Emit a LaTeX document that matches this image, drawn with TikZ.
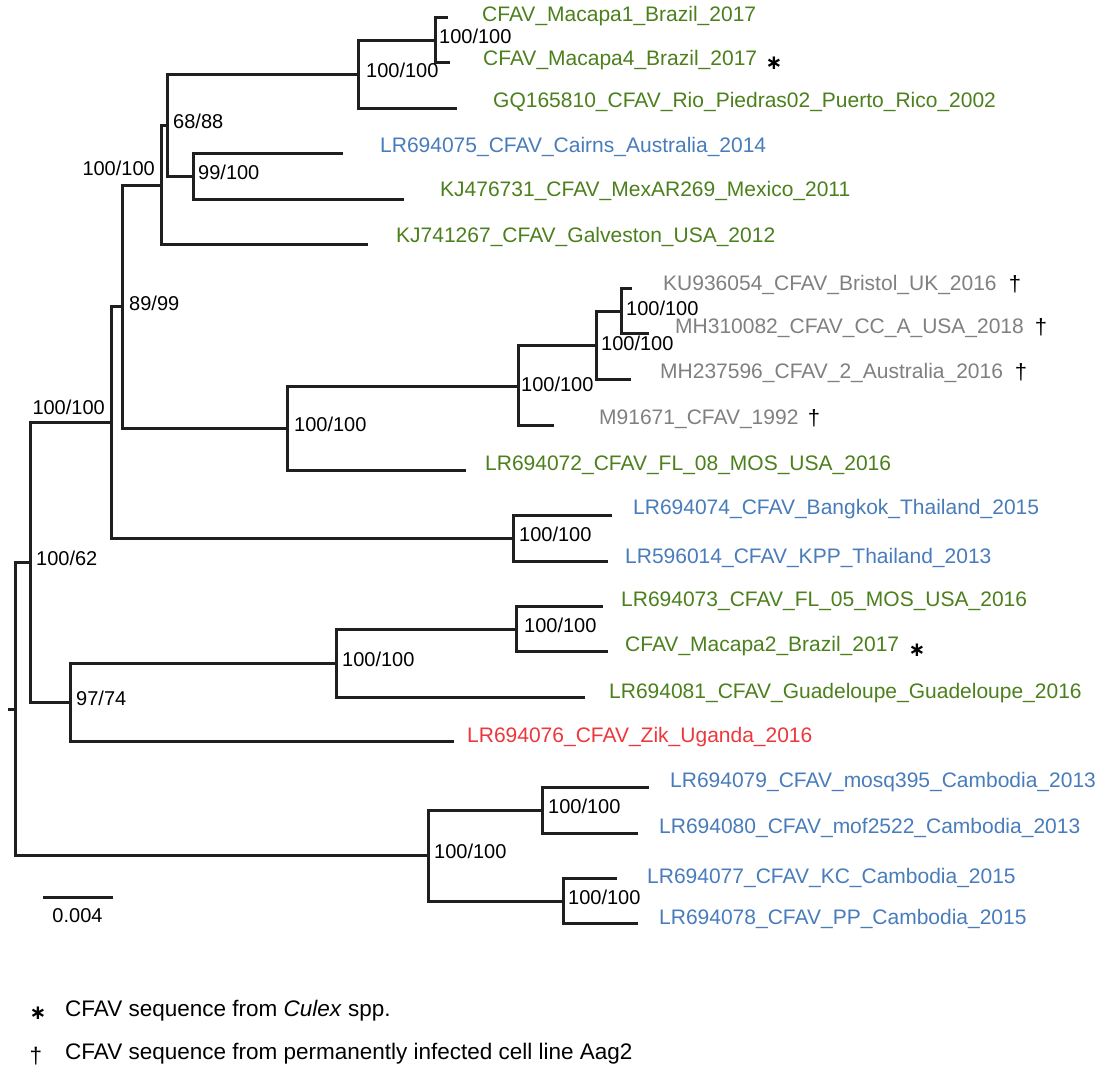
\documentclass[tikz,border=0pt]{standalone}
\usepackage{fontspec}
\setmainfont{Liberation Sans}
\newfontfamily\djv{DejaVu Sans}
\definecolor{tgreen}{RGB}{76,128,28}
\definecolor{tblue}{RGB}{72,124,186}
\definecolor{tgray}{RGB}{128,128,128}
\definecolor{tred}{RGB}{236,56,60}
\begin{document}
\begin{tikzpicture}[x=1pt,y=-1pt,
 br/.style={line width=3pt, draw=black!88},
 tiplab/.style={anchor=west, inner sep=0pt, font=\fontsize{21}{25}\selectfont, text height=0.716em, text depth=0pt},
 tg/.style={tiplab, text=tgreen},
 tb/.style={tiplab, text=tblue},
 tgy/.style={tiplab, text=tgray},
 tr/.style={tiplab, text=tred},
 bs/.style={anchor=west, inner sep=0pt, font=\fontsize{20}{24}\selectfont, text height=0.716em, text depth=0pt},
 bsl/.style={bs, anchor=east},
 mkstar/.style={inner sep=0pt, font=\djv\bfseries\fontsize{20}{22}\selectfont},
 mkdag/.style={inner sep=0pt, font=\fontsize{22}{25}\selectfont},
 leg/.style={anchor=west, inner sep=0pt, font=\fontsize{22.5}{27}\selectfont, text height=0.716em, text depth=0pt}]
\useasboundingbox[fill=white] (0,0) rectangle (1106,1068);

% internal nodes
\coordinate (root0) at (8,709);
\coordinate (root) at (15,709);
\coordinate (P2) at (30,562);
\coordinate (P3) at (111,422);
\coordinate (N89) at (122,306);
\coordinate (P1) at (161,185);
\coordinate (N68) at (167,125);
\coordinate (NA) at (358,74);
\coordinate (Nmac) at (435,40);
\coordinate (N99) at (193,176);
\coordinate (Nb4) at (287,428);
\coordinate (Nb3) at (518,386);
\coordinate (Nb2) at (596,345);
\coordinate (Nbr) at (621,311);
\coordinate (Nth) at (513,538);
\coordinate (N97) at (70,702);
\coordinate (Ngu) at (336,663);
\coordinate (N73) at (516,629);
\coordinate (Ncb) at (428,855);
\coordinate (Nmq) at (542,810);
\coordinate (Nkc) at (563,901);

% tips
\coordinate (t1) at (448,17);
\coordinate (t2) at (450,62);
\coordinate (t3) at (457,108);
\coordinate (t4) at (343,153);
\coordinate (t5) at (404,199);
\coordinate (t6) at (368,244);
\coordinate (t7) at (632,288);
\coordinate (t8) at (649,333);
\coordinate (t9) at (631,379);
\coordinate (t10) at (554,425);
\coordinate (t11) at (466,470);
\coordinate (t12) at (612,515);
\coordinate (t13) at (608,561);
\coordinate (t14) at (603,606);
\coordinate (t15) at (608,651);
\coordinate (t16) at (585,697);
\coordinate (t17) at (454,741);
\coordinate (t18) at (649,787);
\coordinate (t19) at (638,833);
\coordinate (t20) at (617,878);
\coordinate (t21) at (638,923);

% branches
\draw[br] (root0) -- (root);
\draw[br] (root) |- (P2);  \draw[br] (root) |- (Ncb);
\draw[br] (P2) |- (P3);    \draw[br] (P2) |- (N97);
\draw[br] (P3) |- (N89);   \draw[br] (P3) |- (Nth);
\draw[br] (N89) |- (P1);   \draw[br] (N89) |- (Nb4);
\draw[br] (P1) |- (N68);   \draw[br] (P1) |- (t6);
\draw[br] (N68) |- (NA);   \draw[br] (N68) |- (N99);
\draw[br] (NA) |- (Nmac);  \draw[br] (NA) |- (t3);
\draw[br] (Nmac) |- (t1);  \draw[br] (Nmac) |- (t2);
\draw[br] (N99) |- (t4);   \draw[br] (N99) |- (t5);
\draw[br] (Nb4) |- (Nb3);  \draw[br] (Nb4) |- (t11);
\draw[br] (Nb3) |- (Nb2);  \draw[br] (Nb3) |- (t10);
\draw[br] (Nb2) |- (Nbr);  \draw[br] (Nb2) |- (t9);
\draw[br] (Nbr) |- (t7);   \draw[br] (Nbr) |- (t8);
\draw[br] (Nth) |- (t12);  \draw[br] (Nth) |- (t13);
\draw[br] (N97) |- (Ngu);  \draw[br] (N97) |- (t17);
\draw[br] (Ngu) |- (N73);  \draw[br] (Ngu) |- (t16);
\draw[br] (N73) |- (t14);  \draw[br] (N73) |- (t15);
\draw[br] (Ncb) |- (Nmq);  \draw[br] (Ncb) |- (Nkc);
\draw[br] (Nmq) |- (t18);  \draw[br] (Nmq) |- (t19);
\draw[br] (Nkc) |- (t20);  \draw[br] (Nkc) |- (t21);

% tip labels
\node[tg]  (l1)  at (482,18)  {CFAV\_Macapa1\_Brazil\_2017};
\node[tg]  (l2)  at (483,62)  {CFAV\_Macapa4\_Brazil\_2017};
\node[tg]  (l3)  at (493,104) {GQ165810\_CFAV\_Rio\_Piedras02\_Puerto\_Rico\_2002};
\node[tb]  (l4)  at (380,149) {LR694075\_CFAV\_Cairns\_Australia\_2014};
\node[tg]  (l5)  at (440,193) {KJ476731\_CFAV\_MexAR269\_Mexico\_2011};
\node[tg]  (l6)  at (396,239) {KJ741267\_CFAV\_Galveston\_USA\_2012};
\node[tgy] (l7)  at (663,287) {KU936054\_CFAV\_Bristol\_UK\_2016};
\node[tgy] (l8)  at (675,330) {MH310082\_CFAV\_CC\_A\_USA\_2018};
\node[tgy] (l9)  at (660,375) {MH237596\_CFAV\_2\_Australia\_2016};
\node[tgy] (l10) at (599,421) {M91671\_CFAV\_1992};
\node[tg]  (l11) at (485,467) {LR694072\_CFAV\_FL\_08\_MOS\_USA\_2016};
\node[tb]  (l12) at (633,511) {LR694074\_CFAV\_Bangkok\_Thailand\_2015};
\node[tb]  (l13) at (625,560) {LR596014\_CFAV\_KPP\_Thailand\_2013};
\node[tg]  (l14) at (621,603) {LR694073\_CFAV\_FL\_05\_MOS\_USA\_2016};
\node[tg]  (l15) at (625,648) {CFAV\_Macapa2\_Brazil\_2017};
\node[tg]  (l16) at (609,695) {LR694081\_CFAV\_Guadeloupe\_Guadeloupe\_2016};
\node[tr]  (l17) at (467,739) {LR694076\_CFAV\_Zik\_Uganda\_2016};
\node[tb]  (l18) at (670,784) {LR694079\_CFAV\_mosq395\_Cambodia\_2013};
\node[tb]  (l19) at (659,830) {LR694080\_CFAV\_mof2522\_Cambodia\_2013};
\node[tb]  (l20) at (647,880) {LR694077\_CFAV\_KC\_Cambodia\_2015};
\node[tb]  (l21) at (659,921) {LR694078\_CFAV\_PP\_Cambodia\_2015};

% markers
\node[mkstar] (s2)  at (774,63)  {∗};
\node[mkstar] (s15) at (917,650) {∗};
\node[mkdag] (d7)  at (1015,284) {†};
\node[mkdag] (d8)  at (1041,327) {†};
\node[mkdag] (d9)  at (1021,372) {†};
\node[mkdag] (d10) at (814,418)  {†};

% support values
\node[bs]  (b1)  at (439,40)  {100/100};
\node[bs]  (b2)  at (366,74)  {100/100};
\node[bs]  (b3)  at (173,125) {68/88};
\node[bs]  (b4)  at (198,176) {99/100};
\node[bsl] (b5)  at (155,172) {100/100};
\node[bs]  (b6)  at (129,307) {89/99};
\node[bs]  (b7)  at (626,312) {100/100};
\node[bs]  (b8)  at (601,347) {100/100};
\node[bs]  (b9)  at (521,388) {100/100};
\node[bs]  (b10) at (294,428) {100/100};
\node[bs]  (b11) at (519,538) {100/100};
\node[bsl] (b12) at (105,411) {100/100};
\node[bs]  (b13) at (36,562)  {100/62};
\node[bs]  (b14) at (76,702)  {97/74};
\node[bs]  (b15) at (342,663) {100/100};
\node[bs]  (b16) at (524,629) {100/100};
\node[bs]  (b17) at (434,855) {100/100};
\node[bs]  (b18) at (548,810) {100/100};
\node[bs]  (b19) at (568,901) {100/100};

% scale bar
\coordinate (sb1) at (43,897);
\coordinate (sb2) at (113,897);
\draw[br] (sb1) -- (sb2);
\node[bs, anchor=center] (sbl) at (77.5,919) {0.004};

% legend
\node[mkstar] (ls) at (38,1013) {∗};
\node[leg] (lg1) at (65,1013) {CFAV sequence from \textit{Culex} spp.};
\node[mkdag, font=\fontsize{22.5}{27}\selectfont] (ld) at (36,1056) {†};
\node[leg] (lg2) at (65,1056) {CFAV sequence from permanently infected cell line Aag2};
\end{tikzpicture}
\end{document}
